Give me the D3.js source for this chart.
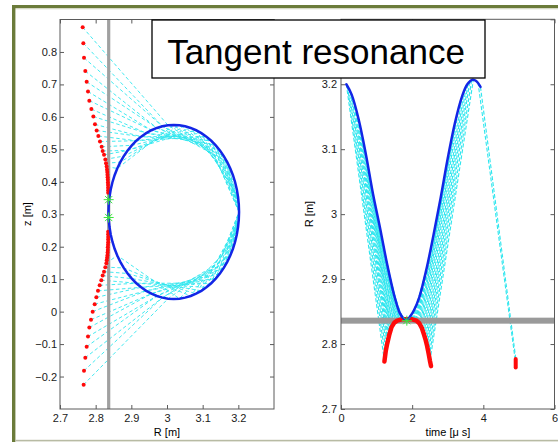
<!DOCTYPE html>
<html><head><meta charset="utf-8">
<script src="https://cdn.jsdelivr.net/npm/d3@7"></script>
<style>body{margin:0;background:#fff}svg{display:block}text{font-family:"Liberation Sans",Arial,sans-serif}</style>
</head><body><svg id="c" width="558" height="442"></svg>
<script>
// ---------- LEFT PANEL DATA (R [m], z [m]) ----------
const ellipseR = [3.202,3.2013,3.1992,3.1958,3.191,3.1849,3.1775,3.1689,3.1592,3.1484,3.1366,3.124,3.1105,3.0963,3.0816,3.0664,3.0508,3.035,
  3.019,3.003,2.9872,2.9716,2.9564,2.9417,2.9275,2.914,2.9014,2.8896,2.8788,2.8691,2.8605,2.8531,2.847,2.8422,2.8388,2.8367,
  2.836,2.8367,2.8388,2.8422,2.847,2.8531,2.8605,2.8691,2.8788,2.8896,2.9014,2.914,2.9275,2.9417,2.9564,2.9716,2.9872,3.003,
  3.019,3.035,3.0508,3.0664,3.0816,3.0963,3.1105,3.124,3.1366,3.1484,3.1592,3.1689,3.1775,3.1849,3.191,3.1958,3.1992,3.2013];
const ellipseZ = [0.307,0.3304,0.3535,0.3764,0.3987,0.4203,0.441,0.4607,0.4793,0.4965,0.5123,0.5265,0.5391,0.5499,0.5588,0.5659,0.5709,0.574,
  0.575,0.574,0.5709,0.5659,0.5588,0.5499,0.5391,0.5265,0.5123,0.4965,0.4793,0.4607,0.441,0.4203,0.3987,0.3764,0.3535,0.3304,
  0.307,0.2836,0.2605,0.2376,0.2153,0.1937,0.173,0.1533,0.1347,0.1175,0.1017,0.0875,0.0749,0.0641,0.0552,0.0481,0.0431,0.04,
  0.039,0.04,0.0431,0.0481,0.0552,0.0641,0.0749,0.0875,0.1017,0.1175,0.1347,0.1533,0.173,0.1937,0.2153,0.2376,0.2605,0.2836];

const dotsUpR = [2.7636,2.7654,2.7673,2.771,2.7748,2.7785,2.7822,2.7879,2.7935,2.7981,2.8028,2.8075,2.8121,2.8168,2.8196,2.8234,2.8271,2.829,2.8308];
const dotsUpZ = [0.876,0.827,0.782,0.741,0.708,0.678,0.650,0.624,0.601,0.577,0.558,0.541,0.524,0.508,0.495,0.483,0.469,0.457,0.447];
const denseUpR = [2.8318,2.8325,2.833,2.8335,2.834,2.8343,2.8346,2.8348,2.835,2.835];
const denseUpZ = [0.438,0.43,0.422,0.414,0.406,0.398,0.39,0.382,0.374,0.366];
const dotsLowR = [2.7663,2.7673,2.771,2.7748,2.7785,2.7822,2.7869,2.7916,2.7972,2.8019,2.8065,2.8112,2.8159,2.8196,2.8234,2.8271,2.83];
const dotsLowZ = [-0.225,-0.182,-0.142,-0.108,-0.077,-0.049,-0.025,0.0,0.023,0.044,0.064,0.081,0.097,0.111,0.123,0.137,0.149];
const denseLowR = [2.831,2.832,2.833,2.8335,2.834,2.834,2.8345,2.835,2.835,2.835,2.835,2.835];
const denseLowZ = [0.158,0.166,0.174,0.182,0.19,0.198,0.206,0.214,0.222,0.23,0.238,0.246];

// ray paths: index lists into the ellipse boundary, one per sparse dot
const raysUpper = [[19,7,0],[20,8,0],[20,7,1],[21,9,0],[21,8,1],[22,10,0],[22,9,1],[23,11,0],[23,10,1],[24,12,0],
  [24,11,1],[25,13,1],[25,12,0],[26,14,2],[27,15,3],[27,14,2],[28,16,4],[29,17,5],[30,18,6]];
const raysLower = [[53,66,0],[52,65,0],[52,66,71],[51,64,0],[51,65,71],[50,63,0],[50,64,71],[49,62,0],[49,63,71],
  [48,61,0],[48,62,71],[47,60,71],[47,61,0],[46,59,71],[45,58,70],[44,57,69],[42,55,68]];

const wallR = 2.8365;
const tangentZ = [0.345, 0.29];

const leftXTicks = [2.7,2.8,2.9,3,3.1,3.2];
const leftYTicks = [-0.2,-0.1,0,0.1,0.2,0.3,0.4,0.5,0.6,0.7,0.8];
const leftXMinor = [2.7,2.8,2.9,3,3.1,3.2,3.3];
const leftYAll = [-0.2,-0.1,0,0.1,0.2,0.3,0.4,0.5,0.6,0.7,0.8,0.9];

// ---------- RIGHT PANEL DATA (time [us], R [m]) ----------
const blueT = [0.15,0.3,0.5,0.7,0.9,1.1,1.3,1.5,1.65,1.75,1.85,1.95,2.05,2.2,2.4,2.6,2.8,3.0,3.2,3.4,3.55,3.7,3.8,3.92];
const blueR = [3.200,3.184,3.145,3.092,3.031,2.978,2.922,2.874,2.848,2.840,2.837,2.843,2.852,2.872,2.915,2.968,3.025,3.086,3.140,3.181,3.200,3.207,3.205,3.196];
const redT = [1.22,1.26,1.3,1.36,1.42,1.5,1.58,1.7,1.85,2.0,2.12,2.2,2.27,2.33,2.38,2.42,2.46,2.5,2.53];
const redR = [2.773,2.79,2.801,2.815,2.826,2.833,2.836,2.838,2.838,2.838,2.836,2.832,2.825,2.815,2.806,2.797,2.786,2.774,2.766];
const blobT = [4.91,4.91];
const blobR = [2.764,2.777];
// descending-branch rays (blue -> red)
const inT0 = [0.15,0.18,0.22,0.26,0.3,0.35,0.4,0.45,0.5,0.55,0.6,0.65,0.7,0.75,0.8,0.85,0.9,0.95,1.0,1.05,1.1,1.15,1.2,1.25,1.3,1.35,1.4,1.45,1.5,1.6];
const inR0 = [3.200,3.197,3.193,3.189,3.184,3.176,3.166,3.156,3.145,3.133,3.120,3.107,3.092,3.077,3.062,3.047,3.031,3.017,3.003,2.990,2.978,2.964,2.950,2.936,2.922,2.910,2.897,2.885,2.874,2.855];
const inT1 = [1.22,1.24,1.26,1.28,1.30,1.315,1.33,1.345,1.36,1.375,1.39,1.405,1.42,1.44,1.46,1.48,1.50,1.52,1.54,1.56,1.58,1.60,1.62,1.64,1.66,1.68,1.70,1.72,1.74,1.78];
const inR1 = [2.773,2.782,2.790,2.796,2.801,2.805,2.808,2.812,2.815,2.818,2.821,2.824,2.826,2.828,2.830,2.832,2.833,2.834,2.835,2.836,2.836,2.837,2.837,2.837,2.837,2.838,2.838,2.838,2.838,2.838];
// rising-branch rays (red -> blue) and the late ray
const outT0 = [1.9,1.93,1.96,1.99,2.02,2.05,2.08,2.105,2.13,2.155,2.18,2.205,2.23,2.255,2.28,2.305,2.33,2.355,2.38,2.40,2.42,2.44,2.46,2.48,2.5, 3.85,3.92];
const outR0 = [2.838,2.838,2.838,2.838,2.838,2.838,2.837,2.837,2.836,2.835,2.834,2.832,2.829,2.826,2.823,2.819,2.815,2.811,2.806,2.802,2.797,2.792,2.786,2.780,2.774, 3.203,3.196];
const outT1 = [2.05,2.12,2.2,2.28,2.35,2.42,2.5,2.58,2.65,2.72,2.8,2.88,2.95,3.02,3.1,3.18,3.25,3.32,3.4,3.46,3.52,3.57,3.62,3.67,3.72, 4.90,4.93];
const outR1 = [2.852,2.862,2.872,2.888,2.905,2.920,2.940,2.962,2.980,3.000,3.025,3.048,3.070,3.090,3.115,3.135,3.152,3.168,3.181,3.190,3.198,3.201,3.205,3.206,3.207, 2.774,2.770];
const bandR = 2.836;
const tangentT = 1.85;

const rightXTicks = [0,2,4,6];
const rightYTicks = [2.7,2.8,2.9,3,3.1,3.2];
const rightYAll = [2.7,2.8,2.9,3,3.1,3.2,3.3];

// ---------- DRAWING ----------
const svg = d3.select("#c");
const CYAN = "#2fe6ee", BLUE = "#1326e6", RED = "#ff0a0a", GRAY = "#a0a0a0", GREEN = "#3be83b", AX = "#5a5a5a";
const fmt = d3.format("");

function star(g, x, y) {
  g.append("path")
    .attr("d", `M${x-5},${y}h10M${x},${y-5}v10M${x-3.6},${y-3.6}l7.2,7.2M${x-3.6},${y+3.6}l7.2,-7.2`)
    .attr("stroke", GREEN).attr("stroke-width", 1).attr("fill", "none");
}

function axes(g, x, y, xt, xtAll, yt, ytAll, yPad) {
  const [x0, x1] = x.range(), [y0, y1] = y.range();
  const style = s => s.call(a => a.select(".domain").remove())
    .attr("font-size", 11).attr("font-family", "Liberation Sans, Arial, sans-serif")
    .call(a => a.selectAll("line").attr("stroke", AX))
    .call(a => a.selectAll("text").attr("fill", "#1a1a1a"));
  g.append("g").attr("transform", `translate(0,${y0})`)
    .call(d3.axisBottom(x).tickValues(xt).tickSize(-4).tickSizeOuter(0).tickPadding(5).tickFormat(fmt)).call(style);
  g.append("g").attr("transform", `translate(0,${y1})`)
    .call(d3.axisTop(x).tickValues(xtAll).tickSize(-4).tickSizeOuter(0).tickFormat("")).call(style);
  g.append("g").attr("transform", `translate(${x0},0)`)
    .call(d3.axisLeft(y).tickValues(yt).tickSize(-4).tickSizeOuter(0).tickPadding(yPad).tickFormat(fmt)).call(style);
  g.append("g").attr("transform", `translate(${x1},0)`)
    .call(d3.axisRight(y).tickValues(ytAll).tickSize(-4).tickSizeOuter(0).tickFormat("")).call(style);
  g.append("rect").attr("x", x0).attr("y", y1).attr("width", x1 - x0).attr("height", y0 - y1)
    .attr("fill", "none").attr("stroke", AX).attr("stroke-width", 1);
}

// outer slide frame
svg.append("rect").attr("x", 12).attr("y", 5).attr("width", 546).attr("height", 3.4).attr("fill", "#6b7b3a");
svg.append("rect").attr("x", 12).attr("y", 8.4).attr("width", 546).attr("height", 1).attr("fill", "#dfe2d2");
svg.append("rect").attr("x", 12).attr("y", 5).attr("width", 3.4).attr("height", 437).attr("fill", "#6b7b3a");
svg.append("rect").attr("x", 15.4).attr("y", 439.8).attr("width", 543).attr("height", 1.6).attr("fill", "#b8bba4");

// ===== left panel =====
const xL = d3.scaleLinear().domain([2.7, 3.3]).range([60, 274]);
const yL = d3.scaleLinear().domain([-0.3, 0.9]).range([409, 19.5]);
const gL = svg.append("g");
const lineL = d3.line().x(d => xL(d[0])).y(d => yL(d[1]));

raysUpper.forEach((p, k) => {
  const pts = [[dotsUpR[k], dotsUpZ[k]]].concat(p.map(i => [ellipseR[i], ellipseZ[i]]));
  gL.append("path").attr("d", lineL(pts)).attr("fill", "none").attr("stroke", CYAN)
    .attr("stroke-width", 0.9).attr("stroke-dasharray", "3.5,2.5");
});
raysLower.forEach((p, k) => {
  const pts = [[dotsLowR[k], dotsLowZ[k]]].concat(p.map(i => [ellipseR[i], ellipseZ[i]]));
  gL.append("path").attr("d", lineL(pts)).attr("fill", "none").attr("stroke", CYAN)
    .attr("stroke-width", 0.9).attr("stroke-dasharray", "3.5,2.5");
});
gL.append("rect").attr("x", xL(wallR) - 1.6).attr("y", yL(0.9)).attr("width", 3.2)
  .attr("height", yL(-0.3) - yL(0.9)).attr("fill", GRAY);

const allDotsR = dotsUpR.concat(denseUpR, dotsLowR, denseLowR);
const allDotsZ = dotsUpZ.concat(denseUpZ, dotsLowZ, denseLowZ);
gL.selectAll("circle.rd").data(allDotsR).join("circle").attr("class", "rd")
  .attr("cx", d => xL(d)).attr("cy", (d, i) => yL(allDotsZ[i])).attr("r", 2).attr("fill", RED);

gL.append("path").attr("d", d3.line().x(d => xL(d[0])).y(d => yL(d[1])).curve(d3.curveLinearClosed)(ellipseR.map((r, i) => [r, ellipseZ[i]])))
  .attr("fill", "none").attr("stroke", BLUE).attr("stroke-width", 2.5);
tangentZ.forEach(z => star(gL, xL(wallR), yL(z)));

axes(gL, xL, yL, leftXTicks, leftXMinor, leftYTicks, leftYAll, 3);
gL.append("text").attr("x", 167).attr("y", 436).attr("text-anchor", "middle").attr("font-size", 11).text("R [m]");
gL.append("text").attr("transform", "translate(31,214) rotate(-90)").attr("text-anchor", "middle").attr("font-size", 11).text("z [m]");

// ===== right panel =====
const xR = d3.scaleLinear().domain([0, 6]).range([341, 554.5]);
const yR = d3.scaleLinear().domain([2.7, 3.3]).range([409, 19.3]);
const gR = svg.append("g");
const lineR = d3.line().x(d => xR(d[0])).y(d => yR(d[1]));

function rays(t0, r0, t1, r1) {
  t0.forEach((t, i) => {
    gR.append("path").attr("d", lineR([[t, r0[i]], [t1[i], r1[i]]]))
      .attr("fill", "none").attr("stroke", CYAN).attr("stroke-width", 1.1).attr("stroke-dasharray", "4,2");
  });
}
rays(inT0, inR0, inT1, inR1);
rays(outT0, outR0, outT1, outR1);

gR.append("rect").attr("x", xR(0)).attr("y", yR(bandR) - 3).attr("width", xR(6) - xR(0)).attr("height", 6).attr("fill", "#9a9a9a");
gR.append("path").attr("d", lineR(redT.map((t, i) => [t, redR[i]]))).attr("fill", "none")
  .attr("stroke", RED).attr("stroke-width", 4.5).attr("stroke-linecap", "round").attr("stroke-linejoin", "round");
gR.append("path").attr("d", lineR(blobT.map((t, i) => [t, blobR[i]]))).attr("fill", "none")
  .attr("stroke", RED).attr("stroke-width", 4).attr("stroke-linecap", "round");
gR.append("path").attr("d", d3.line().x(d => xR(d[0])).y(d => yR(d[1])).curve(d3.curveCatmullRom)(blueT.map((t, i) => [t, blueR[i]]))).attr("fill", "none")
  .attr("stroke", BLUE).attr("stroke-width", 2.5).attr("stroke-linecap", "round");
star(gR, xR(tangentT), yR(bandR));

axes(gR, xR, yR, rightXTicks, rightXTicks, rightYTicks, rightYAll, 4);
gR.append("text").attr("x", 448).attr("y", 436).attr("text-anchor", "middle").attr("font-size", 11).text("time [μ s]");
gR.append("text").attr("transform", "translate(313,214) rotate(-90)").attr("text-anchor", "middle").attr("font-size", 11).text("R [m]");

// ===== title box =====
svg.append("rect").attr("x", 152).attr("y", 20).attr("width", 333).attr("height", 58)
  .attr("fill", "#fff").attr("stroke", "#000").attr("stroke-width", 1.3);
svg.append("text").attr("x", 316).attr("y", 63.5).attr("text-anchor", "middle").attr("font-size", 35)
  .attr("fill", "#000").text("Tangent resonance");
</script></body></html>
